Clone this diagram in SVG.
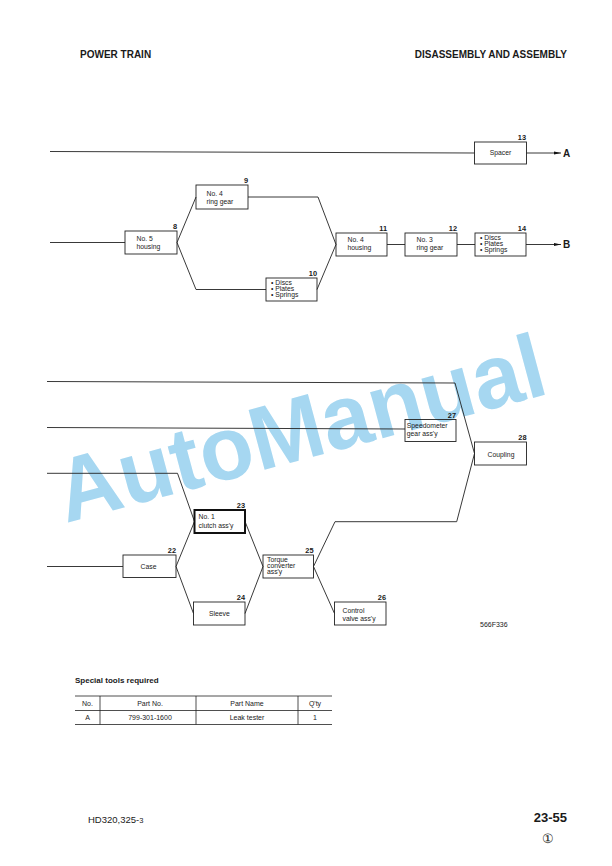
<svg xmlns="http://www.w3.org/2000/svg" width="612" height="866" viewBox="0 0 612 866">
<style>
text{font-family:"Liberation Sans",Arial,sans-serif;fill:#1a1a1a}
.box{fill:none;stroke:#222;stroke-width:0.9}
.thick{fill:none;stroke:#111;stroke-width:2}
.lbl{font-size:6.8px}
.num{font-size:7.4px;font-weight:bold;text-anchor:end}
.mid{text-anchor:middle}
.hdr{font-size:10px;font-weight:bold}
.wire{fill:none;stroke:#222;stroke-width:0.9}
.tbl{stroke:#222;stroke-width:0.8}
.tt{font-size:7px;text-anchor:middle}
.wm{font-size:90px;font-weight:bold;fill:#a6d7f1}
</style>
<defs>
<marker id="arr" markerWidth="8" markerHeight="4" refX="7.5" refY="2" orient="auto" markerUnits="userSpaceOnUse">
<path d="M0,0.4 L7.5,2 L0,3.6 Z" fill="#111"/>
</marker>
</defs>
<rect width="612" height="866" fill="#fff"/>
<text class="wm" x="66" y="523" transform="rotate(-15 66 523)" textLength="502" lengthAdjust="spacingAndGlyphs">AutoManual</text>
<g id="header">
<text class="hdr" x="80" y="58">POWER TRAIN</text>
<text class="hdr" x="567" y="58" text-anchor="end">DISASSEMBLY AND ASSEMBLY</text>
</g>
<g id="connectors">
<path class="wire" d="M50,151.5 L474.5,153"/>
<path class="wire" d="M526.5,153 L561,153" marker-end="url(#arr)"/>
<path class="wire" d="M50,242.5 L125,242.5"/>
<path class="wire" d="M196,197 L177,242.5 L196,289.5 L266,289.5"/>
<path class="wire" d="M248,197 L318,197 L336,244.5 L317,289.5"/>
<path class="wire" d="M387,244.5 L405,244.5"/>
<path class="wire" d="M457,244.5 L475,244.5"/>
<path class="wire" d="M526,244.5 L561,244.5" marker-end="url(#arr)"/>
<path class="wire" d="M47,381.5 L455,383 L474.5,453.5"/>
<path class="wire" d="M47,427.5 L405,429"/>
<path class="wire" d="M47,473.3 L177.5,473.3 L194.5,521.5"/>
<path class="wire" d="M47,566.5 L123,566.5"/>
<path class="wire" d="M194.5,521.5 L176,566.5 L193.5,613.5"/>
<path class="wire" d="M245,521.5 L263,566.5 L245,613.5"/>
<path class="wire" d="M334.5,613.5 L313.5,566.5 L335,521.7 L456.7,521.7 L474.5,453.5"/>
</g>
<g id="n13"><rect class="box" x="474.5" y="142" width="52" height="22"/><text class="num" x="526" y="140">13</text><text class="lbl mid" x="500.5" y="155">Spacer</text></g>
<g id="endA"><text x="563" y="156.8" font-size="10" font-weight="bold">A</text></g>
<g id="endB"><text x="563" y="248.3" font-size="10" font-weight="bold">B</text></g>
<g id="n8"><rect class="box" x="125" y="231" width="52" height="23"/><text class="num" x="177" y="229">8</text><text class="lbl" x="136.5" y="240.5">No. 5</text><text class="lbl" x="136.5" y="249">housing</text></g>
<g id="n9"><rect class="box" x="196" y="185" width="52" height="24"/><text class="num" x="248" y="183">9</text><text class="lbl" x="206.5" y="195.5">No. 4</text><text class="lbl" x="206.5" y="204">ring gear</text></g>
<g id="n10"><rect class="box" x="266" y="278" width="51" height="23"/><text class="num" x="317" y="276">10</text><text class="lbl" x="271" y="285">• Discs</text><text class="lbl" x="271" y="290.8">• Plates</text><text class="lbl" x="271" y="296.8">• Springs</text></g>
<g id="n11"><rect class="box" x="336" y="233" width="51" height="23"/><text class="num" x="387" y="231">11</text><text class="lbl" x="347.5" y="241.5">No. 4</text><text class="lbl" x="347.5" y="250">housing</text></g>
<g id="n12"><rect class="box" x="405" y="233" width="52" height="23"/><text class="num" x="457" y="231">12</text><text class="lbl" x="416.5" y="241.5">No. 3</text><text class="lbl" x="416.5" y="250">ring gear</text></g>
<g id="n14"><rect class="box" x="475" y="233" width="51" height="23"/><text class="num" x="526" y="231">14</text><text class="lbl" x="480" y="240">• Discs</text><text class="lbl" x="480" y="246">• Plates</text><text class="lbl" x="480" y="252">• Springs</text></g>
<g id="n27"><rect class="box" x="405" y="419.5" width="51" height="22"/><text class="num" x="456" y="417.5">27</text><text class="lbl" x="406.8" y="428">Speedometer</text><text class="lbl" x="406.8" y="435.5">gear ass'y</text></g>
<g id="n28"><rect class="box" x="474.5" y="442" width="52" height="23"/><text class="num" x="526.5" y="440">28</text><text class="lbl mid" x="501" y="456.5">Coupling</text></g>
<g id="n23"><rect class="thick" x="194.5" y="510" width="50.5" height="23"/><text class="num" x="245" y="507.5">23</text><text class="lbl" x="198.5" y="518.5">No. 1</text><text class="lbl" x="198.5" y="527.5">clutch ass'y</text></g>
<g id="n22"><rect class="box" x="123" y="555" width="53" height="22.5"/><text class="num" x="176" y="553">22</text><text class="lbl mid" x="148.5" y="569">Case</text></g>
<g id="n24"><rect class="box" x="193.5" y="602" width="51.5" height="23"/><text class="num" x="245" y="600">24</text><text class="lbl mid" x="219.3" y="616">Sleeve</text></g>
<g id="n25"><rect class="box" x="263" y="555" width="50.5" height="23"/><text class="num" x="313.5" y="553">25</text><text class="lbl" x="267" y="562">Torque</text><text class="lbl" x="267" y="568.2">converter</text><text class="lbl" x="267" y="574.4">ass'y</text></g>
<g id="n26"><rect class="box" x="334.5" y="602" width="51.5" height="23"/><text class="num" x="386" y="600">26</text><text class="lbl" x="342.5" y="612.5">Control</text><text class="lbl" x="342.5" y="620.5">valve ass'y</text></g>
<text x="480" y="626.5" font-size="7" fill="#444">566F336</text>
<g id="table">
<text x="75" y="682.5" font-size="8" font-weight="bold">Special tools required</text>
<line class="tbl" x1="75" y1="696" x2="332" y2="696" stroke-width="1.2"/>
<line class="tbl" x1="75" y1="710.5" x2="332" y2="710.5"/>
<line class="tbl" x1="75" y1="724.5" x2="332" y2="724.5" stroke-width="1.1"/>
<line class="tbl" x1="100" y1="696" x2="100" y2="724.5"/>
<line class="tbl" x1="196" y1="696" x2="196" y2="724.5"/>
<line class="tbl" x1="298" y1="696" x2="298" y2="724.5"/>
<text class="tt" x="87.5" y="706">No.</text>
<text class="tt" x="150" y="706">Part No.</text>
<text class="tt" x="247" y="706">Part Name</text>
<text class="tt" x="315" y="706">Q'ty</text>
<text class="tt" x="87.5" y="720">A</text>
<text class="tt" x="150" y="720">799-301-1600</text>
<text class="tt" x="247" y="720">Leak tester</text>
<text class="tt" x="315" y="720">1</text>
</g>
<g id="footer">
<text x="88" y="823" font-size="9.5">HD320,325-<tspan font-size="7.5">3</tspan></text>
<text x="567" y="822" font-size="13" font-weight="bold" text-anchor="end">23-55</text>
<text x="548" y="843" font-size="13" text-anchor="middle" font-family="DejaVu Sans, sans-serif">①</text>
</g>
</svg>
